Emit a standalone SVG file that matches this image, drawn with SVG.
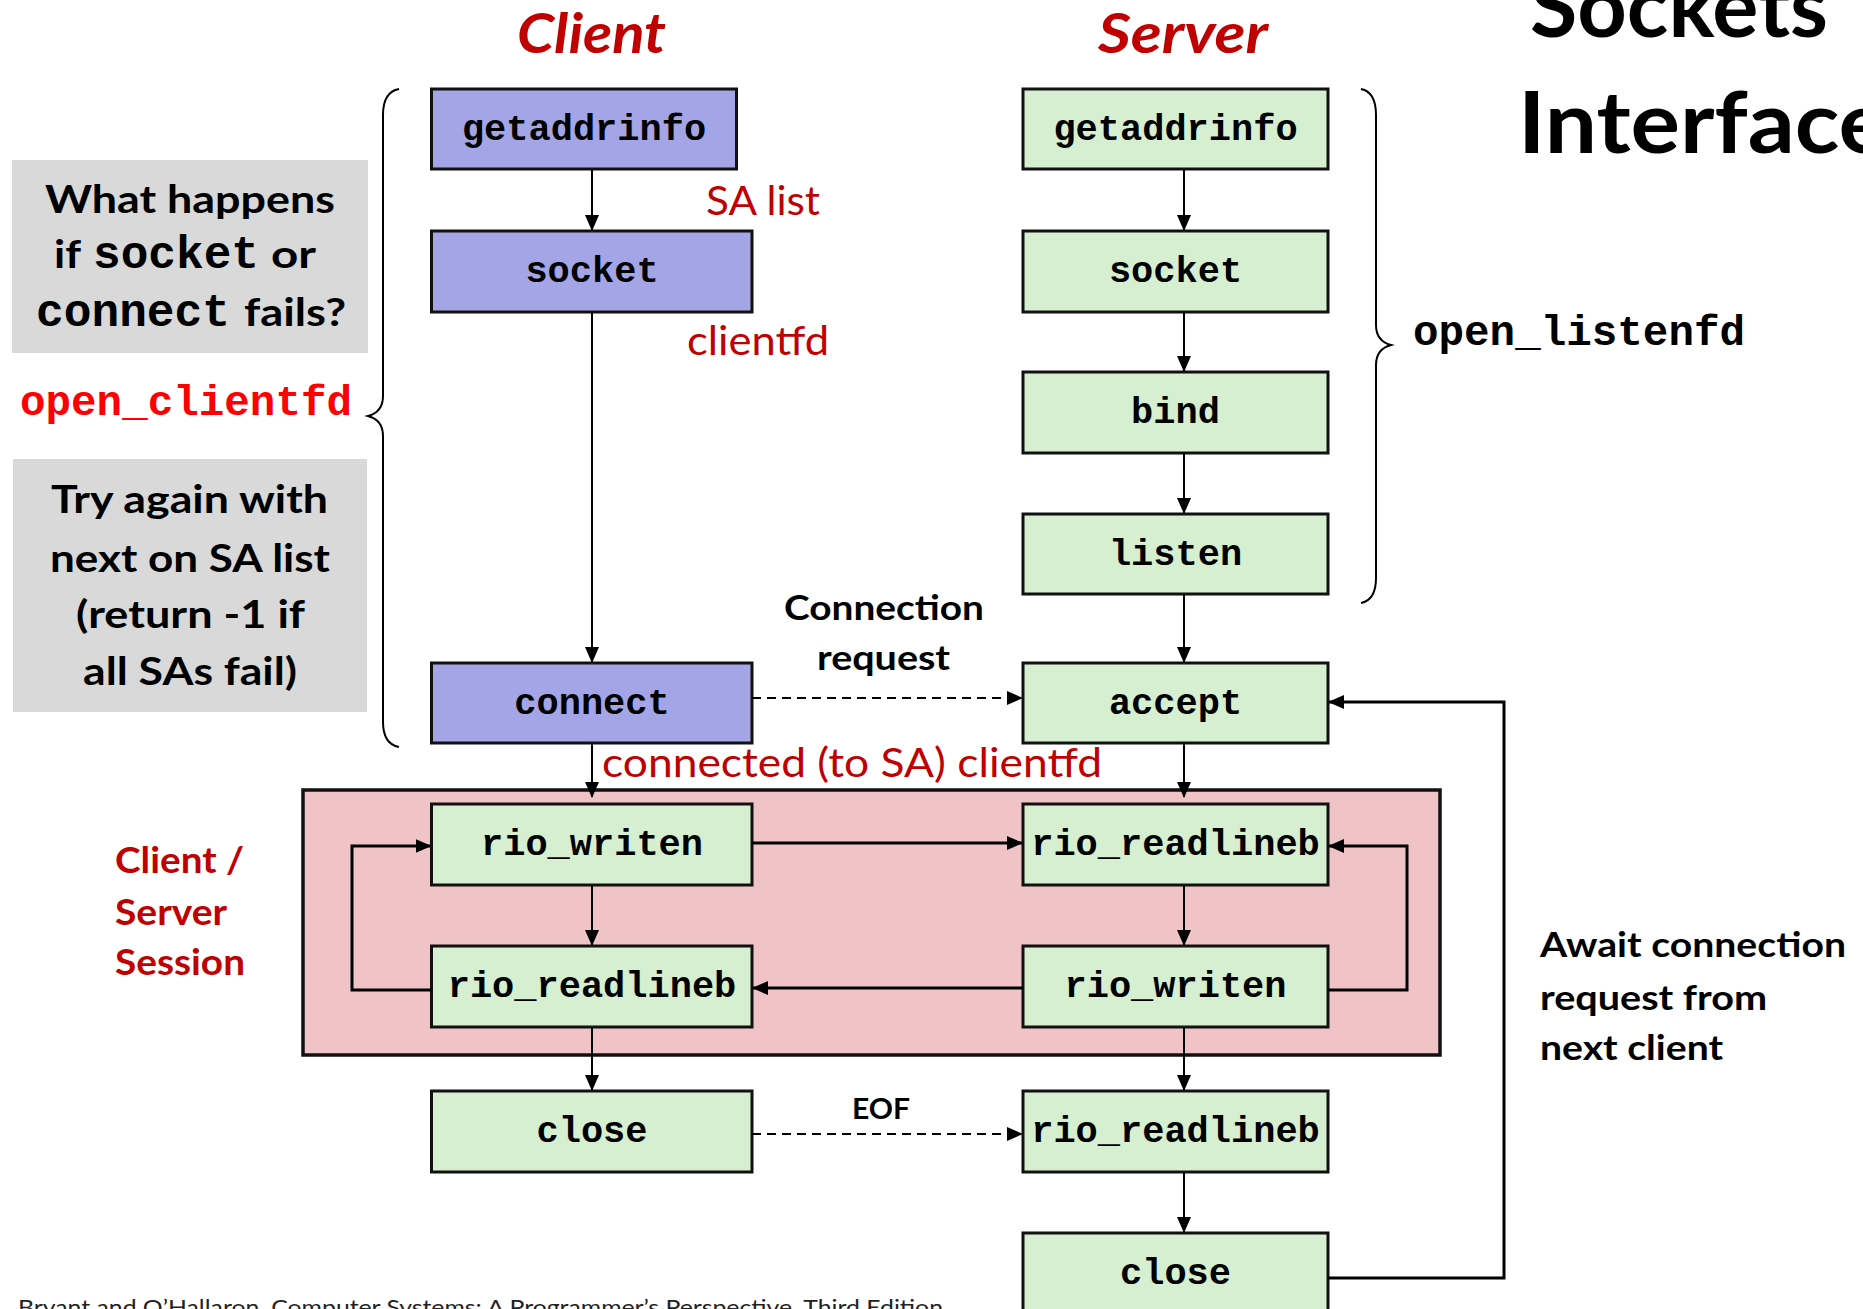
<svg xmlns="http://www.w3.org/2000/svg" width="1863" height="1309" viewBox="0 0 1863 1309">
<defs>
<marker id="ah" markerUnits="userSpaceOnUse" markerWidth="16" markerHeight="14" refX="15" refY="7" orient="auto"><path d="M0,0 L16,7 L0,14 Z" fill="#000"/></marker>
<style>
.box{stroke:#111;stroke-width:3}
.cli{fill:#A4A5E6}
.srv{fill:#D5EFD0}
.mono{font-family:"Liberation Mono","Courier New",monospace;font-weight:bold;font-size:37px;fill:#000;text-anchor:middle}
.sans{font-family:Lato,"Open Sans","Liberation Sans",sans-serif}
.b{font-weight:bold}
.red{fill:#C00000}
.ln{fill:none;stroke:#000;stroke-width:2}
.lnt{fill:none;stroke:#000;stroke-width:3}
.dash{fill:none;stroke:#000;stroke-width:2;stroke-dasharray:9,6}
</style>
</defs>
<rect width="1863" height="1309" fill="#fff"/>

<g id="titles">
<text class="sans b red" x="517" y="53" font-size="56" font-style="italic" textLength="149" lengthAdjust="spacingAndGlyphs">Client</text>
<text class="sans b red" x="1098" y="53" font-size="56" font-style="italic" textLength="170" lengthAdjust="spacingAndGlyphs">Server</text>
<text class="sans b" x="1530" y="37" font-size="87" textLength="298" lengthAdjust="spacingAndGlyphs">Sockets</text>
<text class="sans b" x="1518" y="153" font-size="87" textLength="370" lengthAdjust="spacingAndGlyphs">Interface</text>
</g>

<g id="session-box"><rect x="303" y="790" width="1137" height="265" fill="#F0C4C6" stroke="#111" stroke-width="3.5"/></g>

<g id="note-fail">
<rect x="12" y="160" width="356" height="193" fill="#D9D9D9"/>
<text class="sans b" x="45" y="213" font-size="39" textLength="290" lengthAdjust="spacingAndGlyphs">What happens</text>
<text y="268" font-size="39"><tspan class="sans b" x="54" textLength="27" lengthAdjust="spacingAndGlyphs">if</tspan><tspan x="93" font-family="Liberation Mono, monospace" font-weight="bold" font-size="46" textLength="166" lengthAdjust="spacingAndGlyphs">socket</tspan><tspan class="sans b" x="271" textLength="45" lengthAdjust="spacingAndGlyphs">or</tspan></text>
<text y="326" font-size="39"><tspan x="36" font-family="Liberation Mono, monospace" font-weight="bold" font-size="46" textLength="194" lengthAdjust="spacingAndGlyphs">connect</tspan><tspan class="sans b" x="244" textLength="102" lengthAdjust="spacingAndGlyphs">fails?</tspan></text>
</g>

<g id="note-retry">
<rect x="13" y="459" width="354" height="253" fill="#D9D9D9"/>
<text class="sans b" x="51" y="513" font-size="39" textLength="277" lengthAdjust="spacingAndGlyphs">Try again with</text>
<text class="sans b" x="50" y="572" font-size="39" textLength="280" lengthAdjust="spacingAndGlyphs">next on SA list</text>
<text class="sans b" x="76" y="628" font-size="39" textLength="229" lengthAdjust="spacingAndGlyphs">(return -1 if</text>
<text class="sans b" x="83" y="685" font-size="39" textLength="214" lengthAdjust="spacingAndGlyphs">all SAs fail)</text>
</g>

<g id="open-clientfd">
<text x="20" y="415" font-family="Liberation Mono, monospace" font-weight="bold" font-size="42.5" fill="#FF0000" textLength="332" lengthAdjust="spacingAndGlyphs">open_clientfd</text>
<path class="ln" d="M399,89 Q383,92 383,115 L383,396 Q383,412 368,416 Q383,420 383,436 L383,722 Q383,744 399,747"/>
</g>

<g id="open-listenfd">
<text x="1413" y="345" font-family="Liberation Mono, monospace" font-weight="bold" font-size="42.5" fill="#000" textLength="332" lengthAdjust="spacingAndGlyphs">open_listenfd</text>
<path class="ln" d="M1361,89 Q1376,92 1376,115 L1376,325 Q1376,341 1391,345 Q1376,349 1376,365 L1376,578 Q1376,600 1361,603"/>
</g>

<g id="c-getaddrinfo"><rect class="box cli" x="431.5" y="89" width="305" height="80"/><text class="mono" x="584" y="140">getaddrinfo</text></g>
<g id="c-socket"><rect class="box cli" x="431.5" y="231" width="320.5" height="81"/><text class="mono" x="592" y="282">socket</text></g>
<g id="c-connect"><rect class="box cli" x="431.5" y="663" width="320.5" height="80"/><text class="mono" x="592" y="714">connect</text></g>
<g id="c-rio-writen"><rect class="box srv" x="431.5" y="804" width="320.5" height="81"/><text class="mono" x="592" y="855">rio_writen</text></g>
<g id="c-rio-readlineb"><rect class="box srv" x="431.5" y="946" width="320.5" height="81"/><text class="mono" x="592" y="997">rio_readlineb</text></g>
<g id="c-close"><rect class="box srv" x="431.5" y="1091" width="320.5" height="81"/><text class="mono" x="592" y="1142">close</text></g>

<g id="s-getaddrinfo"><rect class="box srv" x="1023" y="89" width="305" height="80"/><text class="mono" x="1175.5" y="140">getaddrinfo</text></g>
<g id="s-socket"><rect class="box srv" x="1023" y="231" width="305" height="81"/><text class="mono" x="1175.5" y="282">socket</text></g>
<g id="s-bind"><rect class="box srv" x="1023" y="372" width="305" height="81"/><text class="mono" x="1175.5" y="423">bind</text></g>
<g id="s-listen"><rect class="box srv" x="1023" y="514" width="305" height="80"/><text class="mono" x="1175.5" y="565">listen</text></g>
<g id="s-accept"><rect class="box srv" x="1023" y="663" width="305" height="80"/><text class="mono" x="1175.5" y="714">accept</text></g>
<g id="s-rio-readlineb"><rect class="box srv" x="1023" y="804" width="305" height="81"/><text class="mono" x="1175.5" y="855">rio_readlineb</text></g>
<g id="s-rio-writen"><rect class="box srv" x="1023" y="946" width="305" height="81"/><text class="mono" x="1175.5" y="997">rio_writen</text></g>
<g id="s-rio-readlineb2"><rect class="box srv" x="1023" y="1091" width="305" height="81"/><text class="mono" x="1175.5" y="1142">rio_readlineb</text></g>
<g id="s-close"><rect class="box srv" x="1023" y="1233" width="305" height="90"/><text class="mono" x="1175.5" y="1284">close</text></g>

<g id="connectors">
<path class="ln" d="M592,169 V230" marker-end="url(#ah)"/>
<path class="ln" d="M592,312 V662" marker-end="url(#ah)"/>
<path class="ln" d="M592,743 V797" marker-end="url(#ah)"/>
<path class="ln" d="M592,885 V945" marker-end="url(#ah)"/>
<path class="ln" d="M592,1027 V1090" marker-end="url(#ah)"/>
<path class="ln" d="M1184,169 V230" marker-end="url(#ah)"/>
<path class="ln" d="M1184,312 V371" marker-end="url(#ah)"/>
<path class="ln" d="M1184,453 V513" marker-end="url(#ah)"/>
<path class="ln" d="M1184,594 V662" marker-end="url(#ah)"/>
<path class="ln" d="M1184,743 V797" marker-end="url(#ah)"/>
<path class="ln" d="M1184,885 V945" marker-end="url(#ah)"/>
<path class="ln" d="M1184,1027 V1090" marker-end="url(#ah)"/>
<path class="ln" d="M1184,1172 V1232" marker-end="url(#ah)"/>
<path class="dash" d="M752,698 H1022" marker-end="url(#ah)"/>
<path class="dash" d="M752,1134 H1022" marker-end="url(#ah)"/>
<path class="lnt" d="M752,843 H1022" marker-end="url(#ah)"/>
<path class="lnt" d="M1023,988 H753" marker-end="url(#ah)"/>
<path class="lnt" d="M431.5,990 H352 V846 H430.5" marker-end="url(#ah)"/>
<path class="lnt" d="M1328,990 H1407 V846 H1329" marker-end="url(#ah)"/>
<path class="lnt" d="M1328,1278 H1504 V702 H1329" marker-end="url(#ah)"/>
</g>

<g id="labels">
<text class="sans red" x="706" y="215" font-size="40" textLength="114" lengthAdjust="spacingAndGlyphs">SA list</text>
<text class="sans red" x="687" y="355" font-size="40" textLength="142" lengthAdjust="spacingAndGlyphs">clientfd</text>
<text class="sans red" x="602" y="777" font-size="40" textLength="500" lengthAdjust="spacingAndGlyphs">connected (to SA) clientfd</text>
<text class="sans b" x="784" y="620" font-size="34" textLength="200" lengthAdjust="spacingAndGlyphs">Connection</text>
<text class="sans b" x="817" y="670" font-size="34" textLength="133" lengthAdjust="spacingAndGlyphs">request</text>
<text class="sans b" x="852" y="1119" font-size="29" textLength="58" lengthAdjust="spacingAndGlyphs">EOF</text>
<text class="sans b" x="1540" y="957" font-size="35" textLength="306" lengthAdjust="spacingAndGlyphs">Await connection</text>
<text class="sans b" x="1540" y="1010" font-size="35" textLength="227" lengthAdjust="spacingAndGlyphs">request from</text>
<text class="sans b" x="1540" y="1060" font-size="35" textLength="183" lengthAdjust="spacingAndGlyphs">next client</text>
<text class="sans b red" x="115" y="873" font-size="37" textLength="129" lengthAdjust="spacingAndGlyphs">Client /</text>
<text class="sans b red" x="115" y="925" font-size="37" textLength="112" lengthAdjust="spacingAndGlyphs">Server</text>
<text class="sans b red" x="115" y="975" font-size="37" textLength="130" lengthAdjust="spacingAndGlyphs">Session</text>
<text class="sans" x="18" y="1315" font-size="21" fill="#222" textLength="925" lengthAdjust="spacingAndGlyphs">Bryant and O’Hallaron, Computer Systems: A Programmer’s Perspective, Third Edition</text>
</g>
</svg>
